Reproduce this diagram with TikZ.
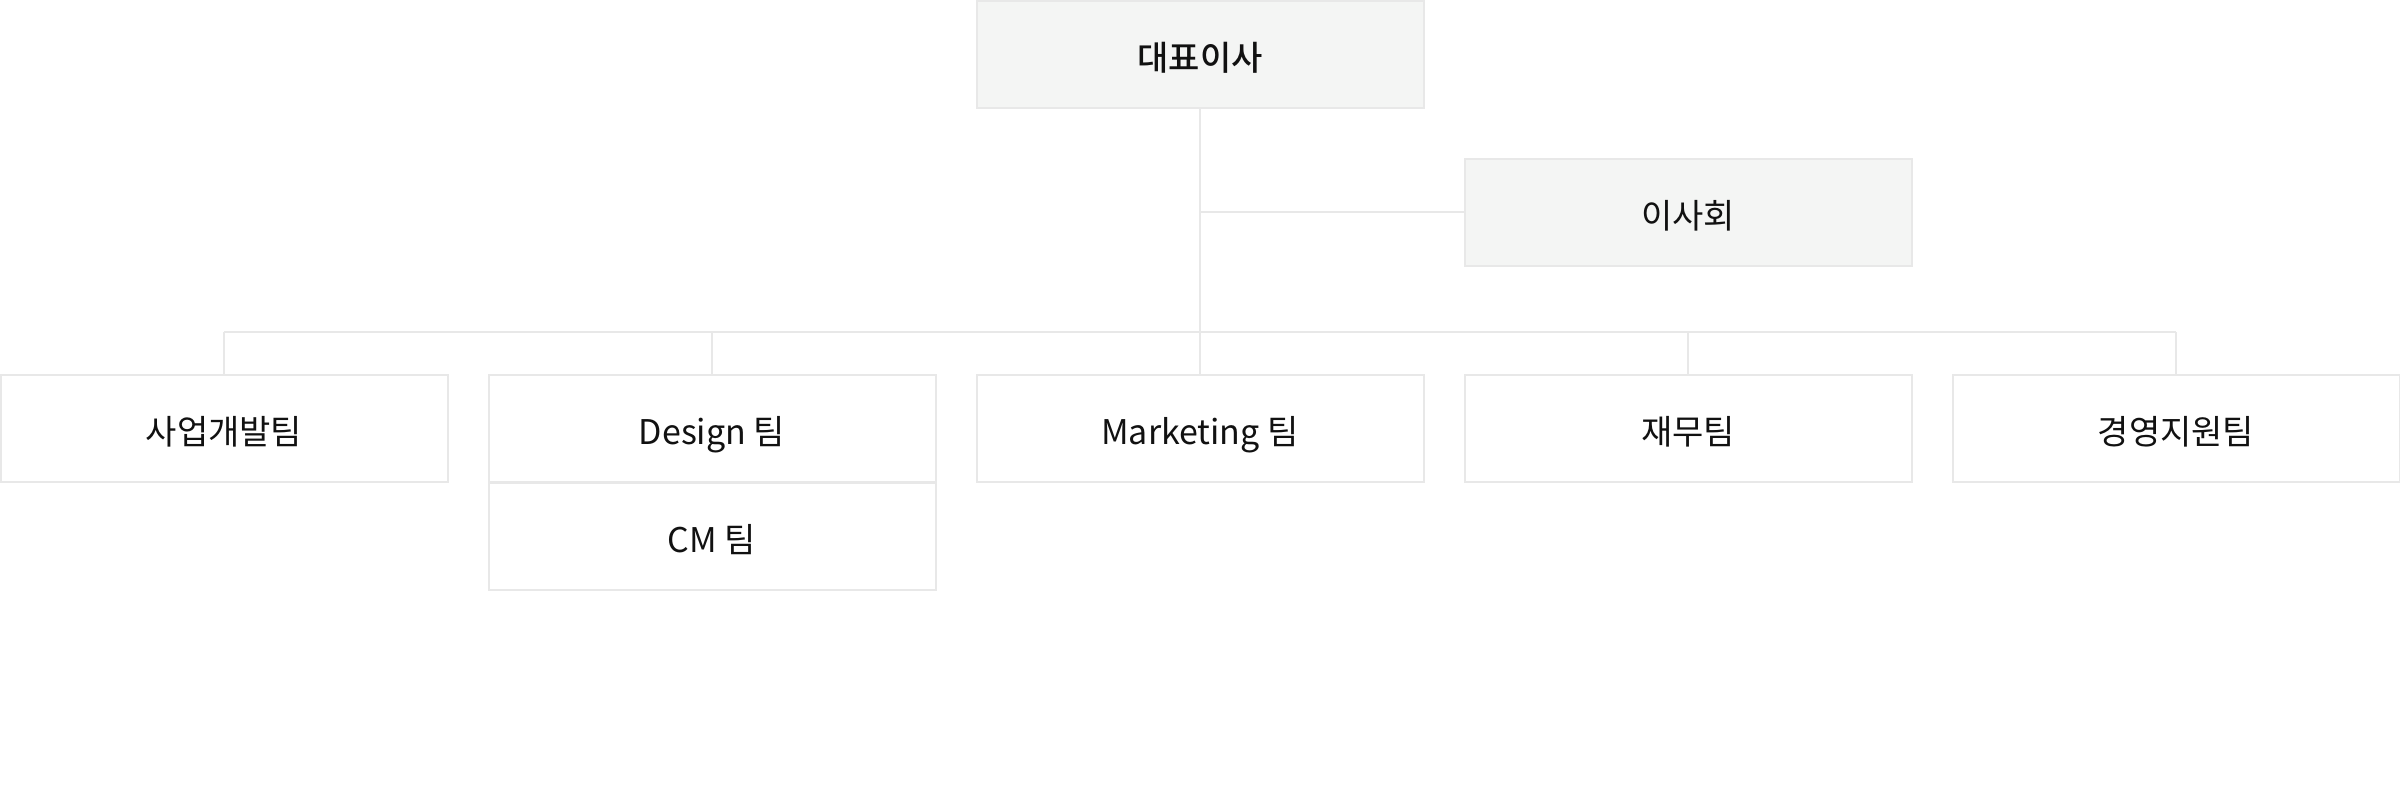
\documentclass[tikz,border=0pt]{standalone}
\usepackage{fontspec}
\setmainfont{Noto Sans CJK KR}
\newfontfamily\kr{Noto Sans CJK KR}
\newfontfamily\krm{Noto Sans CJK KR}[UprightFont=* Medium]
\definecolor{lineC}{HTML}{E8E8E8}
\definecolor{fillC}{HTML}{F4F5F4}
\definecolor{txtC}{HTML}{111111}
\begin{document}
\begin{tikzpicture}[x=1pt,y=-1pt,
  box/.style={draw=lineC, line width=2pt, minimum width=447pt, minimum height=107pt,
    inner sep=0pt, outer sep=0pt, text height=33pt, text depth=1pt,
    text=txtC, font=\kr\fontsize{34}{40}\selectfont},
  topbox/.style={box, fill=fillC},
  conn/.style={draw=lineC, line width=2pt}]
\useasboundingbox[fill=white] (0,0) rectangle (2400,792);
\node[topbox, font=\krm\fontsize{34}{40}\selectfont] (ceo) at (1200,54.5) {대표이사};
\node[topbox] (board) at (1688,212) {이사회};
\node[box] (biz) at (224,428) {사업개발팀};
\node[box] (design) at (712,428) {Design 팀};
\node[box] (cm) at (712,536) {CM 팀};
\node[box] (mkt) at (1200,428) {Marketing 팀};
\node[box] (fin) at (1688,428) {재무팀};
\node[box] (mgmt) at (2176,428) {경영지원팀};
\coordinate (busL) at (224,332);
\coordinate (busR) at (2176,332);
\coordinate (busC) at (1200,332);
\draw[conn] (ceo.south) -- (mkt.north);
\draw[conn] (ceo.south |- board.west) -- (board.west);
\draw[conn] (busL) -- (busR);
\draw[conn] (busL) -- (biz.north);
\draw[conn] (design.north |- busC) -- (design.north);
\draw[conn] (fin.north |- busC) -- (fin.north);
\draw[conn] (busR) -- (mgmt.north);
\end{tikzpicture}
\end{document}
